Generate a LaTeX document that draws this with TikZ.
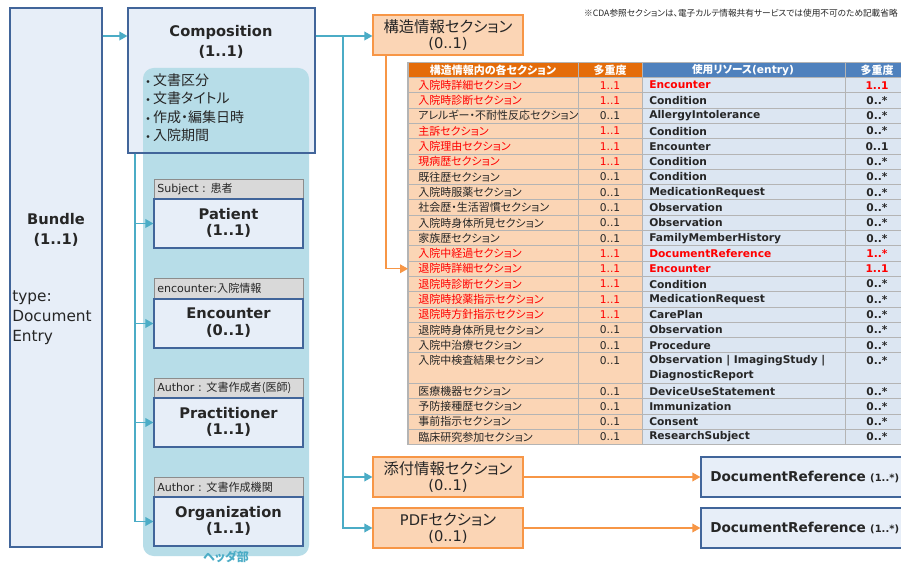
\documentclass[tikz,border=0pt]{standalone}
\usepackage{fontspec}
\setmainfont{DejaVu Sans}
\newfontfamily\jp[RawFeature=+palt]{Noto Sans CJK JP}
\usetikzlibrary{arrows.meta,fit}
\definecolor{boxfill}{HTML}{E7EEF8}
\definecolor{boxline}{HTML}{41659A}
\definecolor{tealbg}{HTML}{B7DDE8}
\definecolor{tealc}{HTML}{4BACC6}
\definecolor{labelfill}{HTML}{D9D9D9}
\definecolor{labelline}{HTML}{8C8C8C}
\definecolor{orfill}{HTML}{FBD5B5}
\definecolor{orline}{HTML}{F79646}
\definecolor{thor}{HTML}{E46C0A}
\definecolor{thbl}{HTML}{4F81BD}
\definecolor{tbbl}{HTML}{DCE6F2}
\definecolor{grid}{HTML}{B4B4B4}
\definecolor{txt}{HTML}{262626}
\definecolor{red1}{HTML}{FF0000}
\newcommand\fsz[2]{\fontsize{#1}{#2}\selectfont}
\tikzset{
  bluebox/.style={draw=boxline, fill=boxfill, line width=0.9pt, inner sep=0pt},
  graylabel/.style={draw=labelline, fill=labelfill, line width=0.6pt, inner sep=0pt},
  orangebox/.style={draw=orline, fill=orfill, line width=0.9pt, inner sep=0pt},
  plain/.style={inner sep=0pt, align=center, text=txt},
  tealarrow/.style={draw=tealc, line width=1pt, -{Triangle[length=6pt,width=6.5pt]}},
  orarrow/.style={draw=orline, line width=1pt, -{Triangle[length=6pt,width=6.5pt]}},
  titlefont/.style={font=\bfseries\fsz{11}{12.5}},
  labeltext/.style={inner sep=0pt, anchor=west, text=txt, font=\fsz{8.3}{10}},
  cellL/.style={inner sep=0pt, anchor=west, font=\jp\fsz{8.25}{10}},
  cellC/.style={inner sep=0pt, font=\fsz{8}{10}},
  cellR/.style={inner sep=0pt, anchor=west, font=\bfseries\fsz{8}{11.5}, align=left},
  cellM/.style={inner sep=0pt, font=\bfseries\fsz{8}{10}},
}
\newcommand\trow[7]{%
  \pgfmathsetmacro\yc{77.5+(#1-0.5)*15.3}
  \node[cellL, text=#6] (a#1) at (418,\yc) {#2};
  \node[cellC, text=#6] (b#1) at (610,\yc) {#3};
  \node[cellR, text=#7] (c#1) at (649,\yc) {#4};
  \node[cellM, text=#7] (d#1) at (877,\yc) {#5};
}
\begin{document}
\begin{tikzpicture}[x=0.75pt,y=-0.75pt]
\useasboundingbox (0,0) rectangle (901,563);
\clip (0,0) rectangle (901,563);
\fill[white] (0,0) rectangle (901,563);

% note
\node[inner sep=0pt, anchor=east, text=txt, font=\jp\fsz{6.5}{7.5}] (note) at (898,13) {※CDA参照セクションは、電子カルテ情報共有サービスでは使用不可のため記載省略};

% Bundle
\node[bluebox, fit={(10,8)(102,547)}] (bundle) {};
\node[plain, font=\bfseries\fsz{11}{15}] (bundlet) at (56,230) {Bundle\\(1..1)};
\node[plain, align=left, anchor=west, font=\fsz{11.5}{15}] (bundletype) at (12,318) {type:\\Document\\Entry};

% Composition and header region
\fill[boxfill] (128,8) rectangle (315,153);
\node[fill=tealbg, rounded corners=8pt, inner sep=0pt, fit={(143,68)(309,556)}] (hdr) {};
\node[draw=boxline, line width=0.9pt, inner sep=0pt, fit={(128,8)(315,153)}] (comp) {};
\node[plain, font=\bfseries\fsz{11}{15}] (compt) at (221,42) {Composition\\(1..1)};
\node[labeltext, font=\jp\fsz{10.5}{12}] (b1) at (145,80) {{\fontspec{DejaVu Sans}\fsz{7}{8}•}\,文書区分};
\node[labeltext, font=\jp\fsz{10.5}{12}] (b2) at (145,98.5) {{\fontspec{DejaVu Sans}\fsz{7}{8}•}\,文書タイトル};
\node[labeltext, font=\jp\fsz{10.5}{12}] (b3) at (145,117) {{\fontspec{DejaVu Sans}\fsz{7}{8}•}\,作成・編集日時};
\node[labeltext, font=\jp\fsz{10.5}{12}] (b4) at (145,135.5) {{\fontspec{DejaVu Sans}\fsz{7}{8}•}\,入院期間};
\node[plain, font=\jp\bfseries\fsz{9}{10}, text=tealc] (hdrt) at (226,557) {ヘッダ部};

% child boxes
\node[graylabel, fit={(154,179)(303,199)}] (patl) {};
\node[bluebox, fit={(154,199)(303,248)}] (pat) {};
\node[labeltext] at (157,189) {Subject : {\jp 患者}};
\node[plain, titlefont] at (228.5,223) {Patient\\(1..1)};

\node[graylabel, fit={(154,278)(303,299)}] (encl) {};
\node[bluebox, fit={(154,299)(303,348)}] (enc) {};
\node[labeltext] at (157,288.5) {encounter:{\jp 入院情報}};
\node[plain, titlefont] at (228.5,322.5) {Encounter\\(0..1)};

\node[graylabel, fit={(154,378)(303,398)}] (pracl) {};
\node[bluebox, fit={(154,398)(303,447)}] (prac) {};
\node[labeltext] at (157,388) {Author : {\jp 文書作成者(医師)}};
\node[plain, titlefont] at (228.5,422) {Practitioner\\(1..1)};

\node[graylabel, fit={(154,477)(303,497)}] (orgl) {};
\node[bluebox, fit={(154,497)(303,546)}] (org) {};
\node[labeltext] at (157,487) {Author : {\jp 文書作成機関}};
\node[plain, titlefont] at (228.5,521) {Organization\\(1..1)};

% teal connectors
\coordinate (ya) at (0,36);
\coordinate (tx) at (135,0);
\coordinate (sx) at (343,0);
\draw[tealarrow] (bundle.east |- ya) -- (comp.west |- ya);
\draw[tealarrow] (comp.south -| tx) |- (pat.west);
\draw[tealarrow] (comp.south -| tx) |- (enc.west);
\draw[tealarrow] (comp.south -| tx) |- (prac.west);
\draw[tealarrow] (comp.south -| tx) |- (org.west);

% section boxes
\node[orangebox, fit={(373,15)(523,55)}] (kozo) {};
\node[plain, font=\jp\fsz{11.5}{12}] at (448,35) {構造情報セクション\\{\fontspec{DejaVu Sans}\fsz{11}{12}(0..1)}};
\node[orangebox, fit={(373,457)(523,497)}] (tenpu) {};
\node[plain, font=\jp\fsz{11.5}{12}] at (448,477) {添付情報セクション\\{\fontspec{DejaVu Sans}\fsz{11}{12}(0..1)}};
\node[orangebox, fit={(373,508)(523,548)}] (pdf) {};
\node[plain, font=\fsz{11}{12}] at (448,528) {PDF{\jp\fsz{11.5}{12}セクション}\\(0..1)};

\draw[tealarrow] (comp.east |- ya) -- (kozo.west |- ya);
\draw[tealarrow] (sx |- ya) |- (tenpu.west);
\draw[tealarrow] (sx |- ya) |- (pdf.west);

% DocumentReference boxes
\node[bluebox, fit={(701,457)(912,497)}] (dr1) {};
\node[plain, anchor=west] at (710,477) {{\bfseries\fsz{10.2}{12}DocumentReference} {\bfseries\fsz{7.5}{9}(1..*)}};
\node[bluebox, fit={(701,508)(912,548)}] (dr2) {};
\node[plain, anchor=west] at (710,528) {{\bfseries\fsz{10.2}{12}DocumentReference} {\bfseries\fsz{7.5}{9}(1..*)}};
\draw[orarrow] (tenpu) -- (dr1);
\draw[orarrow] (pdf) -- (dr2);

% table
\fill[thor] (408,62.5) rectangle (642,77.5);
\fill[thbl] (642,62.5) rectangle (910,77.5);
\fill[orfill] (408,77.5) rectangle (642,444.7);
\fill[tbbl] (642,77.5) rectangle (910,444.7);
\foreach \k in {0,...,18,20,21,22,23}
  \draw[grid, line width=0.6pt] (408,{77.5+\k*15.3}) -- (910,{77.5+\k*15.3});
\foreach \xx in {578,642,845}
  \draw[grid, line width=0.6pt] (\xx,62.5) -- (\xx,444.7);
\draw[grid, line width=0.9pt] (408,62.5) rectangle (910,444.7);

\node[inner sep=0pt, text=white, font=\jp\bfseries\fsz{8.25}{10}] (h1) at (493,70) {構造情報内の各セクション};
\node[inner sep=0pt, text=white, font=\jp\bfseries\fsz{8.25}{10}] (h2) at (610,70) {多重度};
\node[inner sep=0pt, text=white, font=\bfseries\fsz{8}{10}] (h3) at (743,70) {{\jp 使用リソース}(entry)};
\node[inner sep=0pt, text=white, font=\jp\bfseries\fsz{8.25}{10}] (h4) at (877,70) {多重度};

\trow{1}{入院時詳細セクション}{1..1}{Encounter}{1..1}{red1}{red1}
\trow{2}{入院時診断セクション}{1..1}{Condition}{0..*}{red1}{txt}
\trow{3}{アレルギー・不耐性反応セクション}{0..1}{AllergyIntolerance}{0..*}{txt}{txt}
\trow{4}{主訴セクション}{1..1}{Condition}{0..*}{red1}{txt}
\trow{5}{入院理由セクション}{1..1}{Encounter}{0..1}{red1}{txt}
\trow{6}{現病歴セクション}{1..1}{Condition}{0..*}{red1}{txt}
\trow{7}{既往歴セクション}{0..1}{Condition}{0..*}{txt}{txt}
\trow{8}{入院時服薬セクション}{0..1}{MedicationRequest}{0..*}{txt}{txt}
\trow{9}{社会歴・生活習慣セクション}{0..1}{Observation}{0..*}{txt}{txt}
\trow{10}{入院時身体所見セクション}{0..1}{Observation}{0..*}{txt}{txt}
\trow{11}{家族歴セクション}{0..1}{FamilyMemberHistory}{0..*}{txt}{txt}
\trow{12}{入院中経過セクション}{1..1}{DocumentReference}{1..*}{red1}{red1}
\trow{13}{退院時詳細セクション}{1..1}{Encounter}{1..1}{red1}{red1}
\trow{14}{退院時診断セクション}{1..1}{Condition}{0..*}{red1}{txt}
\trow{15}{退院時投薬指示セクション}{1..1}{MedicationRequest}{0..*}{red1}{txt}
\trow{16}{退院時方針指示セクション}{1..1}{CarePlan}{0..*}{red1}{txt}
\trow{17}{退院時身体所見セクション}{0..1}{Observation}{0..*}{txt}{txt}
\trow{18}{入院中治療セクション}{0..1}{Procedure}{0..*}{txt}{txt}
\node[cellL, text=txt] (a19) at (418,360.55) {入院中検査結果セクション};
\node[cellC, text=txt] (b19) at (610,360.55) {0..1};
\node[cellR, text=txt] (c19) at (649,368.2) {Observation | ImagingStudy |\\DiagnosticReport};
\node[cellM, text=txt] (d19) at (877,360.55) {0..*};
\trow{21}{医療機器セクション}{0..1}{DeviceUseStatement}{0..*}{txt}{txt}
\trow{22}{予防接種歴セクション}{0..1}{Immunization}{0..*}{txt}{txt}
\trow{23}{事前指示セクション}{0..1}{Consent}{0..*}{txt}{txt}
\trow{24}{臨床研究参加セクション}{0..1}{ResearchSubject}{0..*}{txt}{txt}

% orange connector into the table
\coordinate (ox) at (386,0);
\coordinate (row13) at (408,268.75);
\draw[orarrow] (kozo.south -| ox) |- (row13);
\end{tikzpicture}
\end{document}
